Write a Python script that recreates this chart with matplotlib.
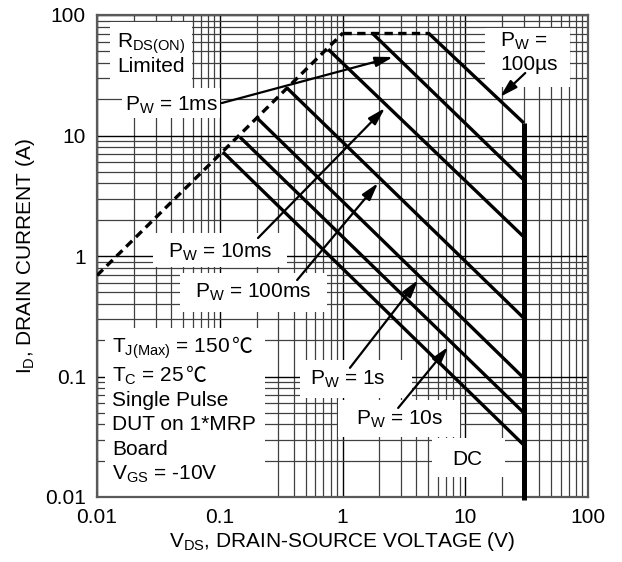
import numpy as np
import matplotlib
matplotlib.use('Agg')
import matplotlib.pyplot as plt
from matplotlib.ticker import FixedLocator, NullFormatter, LogLocator
from matplotlib.patches import Rectangle

plt.rcParams['font.family'] = ['Liberation Sans', 'DejaVu Sans']
plt.rcParams['mathtext.default'] = 'regular'
plt.rcParams['font.size'] = 15

#-------------------------------------------------------------------------------#
# values (V, A)
rds_v = [0.01, 1.01]          # R_DS(ON) limit line
rds_i = [0.69, 71.0]
flat_v = [1.01, 5.0]          # package current limit
flat_i = [71.0, 71.0]
v_max = 30.0                  # BV_DSS limit (vertical)

pulse_names = ['100µs', '1ms', '10ms', '100ms', '1s', '10s', 'DC']
start_v = [5.0, 1.74, 0.764, 0.353, 0.201, 0.146, 0.106]
start_i = [71.0, 71.0, 52.0, 24.8, 14.0, 9.7, 7.3]
end_i = [12.7, 4.27, 1.44, 0.305, 0.097, 0.050, 0.027]

# annotation arrows: (tail V, tail I) -> (head V, head I)
arrow_tail = {'100µs': (30.8, 33.0), '1ms': (0.104, 18.6), '10ms': (0.205, 1.41),
              '100ms': (0.427, 0.632), '1s': (1.15, 0.118), '10s': (2.84, 0.0548)}
arrow_head = {'100µs': (19.2, 20.9), '1ms': (2.58, 44.8), '10ms': (2.22, 16.9),
              '100ms': (1.95, 4.03), '1s': (4.13, 0.632), '10s': (7.26, 0.176)}

tick_vals = [0.01, 0.1, 1, 10, 100]
tick_txt = ['0.01', '0.1', '1', '10', '100']

#-------------------------------------------------------------------------------#
fig = plt.figure(figsize=(6.22, 5.62), dpi=100)
ax = fig.add_axes([97/622, 65/562, 491/622, 482/562])
ax.set_xscale('log')
ax.set_yscale('log')
ax.set_xlim(0.01, 100)
ax.set_ylim(0.01, 100)

ax.xaxis.set_major_locator(FixedLocator(tick_vals))
ax.yaxis.set_major_locator(FixedLocator(tick_vals))
ax.set_xticklabels(tick_txt)
ax.set_yticklabels(tick_txt)
ax.xaxis.set_minor_locator(LogLocator(base=10, subs=np.arange(2, 10), numticks=20))
ax.yaxis.set_minor_locator(LogLocator(base=10, subs=np.arange(2, 10), numticks=20))
ax.xaxis.set_minor_formatter(NullFormatter())
ax.yaxis.set_minor_formatter(NullFormatter())
ax.tick_params(which='both', direction='in', length=0)
ax.tick_params(axis='x', pad=8)
ax.tick_params(axis='y', pad=8)

ax.grid(which='major', color='k', lw=1.0, zorder=0)
ax.grid(which='minor', color='0.25', lw=0.9, zorder=0)
ax.set_axisbelow(True)
for s in ax.spines.values():
	s.set_color('0.35')
	s.set_linewidth(1.6)

#text boxes (white patches hiding the grid)
boxes = [(0.0265, 0.849, 0.167, 0.136), (0.051, 0.786, 0.200, 0.063),
         (0.790, 0.851, 0.173, 0.122), (0.114, 0.477, 0.273, 0.071),
         (0.169, 0.384, 0.299, 0.081), (0.016, 0.0, 0.326, 0.351),
         (0.413, 0.205, 0.229, 0.079), (0.491, 0.124, 0.248, 0.077),
         (0.682, 0.041, 0.149, 0.081)]
for (bx, by, bw, bh) in boxes:
	ax.add_patch(Rectangle((bx, by), bw, bh, transform=ax.transAxes,
	                       fc='white', ec='none', zorder=1))

#curves
lw = 2.4
ax.plot(rds_v, rds_i, color='k', lw=lw, ls=(0, (2.5, 1.6)), zorder=3)
ax.plot(flat_v, flat_i, color='k', lw=lw, ls=(0, (2.5, 1.6)), zorder=3)
for i in range(len(pulse_names)):
	ax.plot([start_v[i], v_max], [start_i[i], end_i[i]], color='k', lw=lw,
	        solid_capstyle='butt', zorder=3)
ax.plot([v_max, v_max], [end_i[0], 0.0095], color='k', lw=3.6, clip_on=False,
        solid_capstyle='butt', zorder=3)

for name in arrow_tail:
	ax.annotate('', xy=arrow_head[name], xytext=arrow_tail[name],
	            arrowprops=dict(arrowstyle='-|>,head_length=0.7,head_width=0.2',
	                            color='k', lw=1.6, mutation_scale=15,
	                            shrinkA=0, shrinkB=0), zorder=4)

#labels
def lab(x, y, s, ha='left'):
	return ax.text(x, y, s, transform=ax.transAxes, ha=ha, va='baseline', zorder=5)

lab(0.041, 0.9315, 'R$_{DS(ON)}$')
lab(0.041, 0.882, 'Limited')
lab(0.057, 0.801, 'P$_W$ = 1ms')
lab(0.821, 0.934, 'P$_W$ =')
lab(0.821, 0.886, '100µs')
lab(0.251, 0.496, 'P$_W$ = 10ms', ha='center')
lab(0.318, 0.413, 'P$_W$ = 100ms', ha='center')
lab(0.511, 0.232, 'P$_W$ = 1s', ha='center')
lab(0.617, 0.149, 'P$_W$ = 10s', ha='center')
lab(0.754, 0.066, 'DC', ha='center')

info = ['T$_{J(Max)}$ = 150', 'T$_C$ = 25', 'Single Pulse',
        'DUT on 1*MRP', 'Board', 'V$_{GS}$ = -10V']
info_deg = [True, True, False, False, False, False]
info_y = [0.299, 0.239, 0.189, 0.139, 0.087, 0.035]
renderer = fig.canvas.get_renderer()
for s, yy, deg in zip(info, info_y, info_deg):
	t = lab(0.031, yy, s)
	if deg:
		# ℃ is not in Liberation Sans / mathtext, put it right after the number
		x1 = t.get_window_extent(renderer).x1
		xa = ax.transAxes.inverted().transform((x1, 0))[0]
		ax.text(xa + 0.004, yy, '℃', transform=ax.transAxes, ha='left',
		        va='baseline', family=['Noto Sans CJK SC', 'DejaVu Sans'],
		        fontweight='light', zorder=5)

ax.set_xlabel('V$_{DS}$, DRAIN-SOURCE VOLTAGE (V)')
ax.set_ylabel('I$_D$, DRAIN CURRENT (A)')
ax.xaxis.set_label_coords(0.5, -0.068)
ax.yaxis.set_label_coords(-0.122, 0.5)

fig.savefig('out.png', dpi=100)
